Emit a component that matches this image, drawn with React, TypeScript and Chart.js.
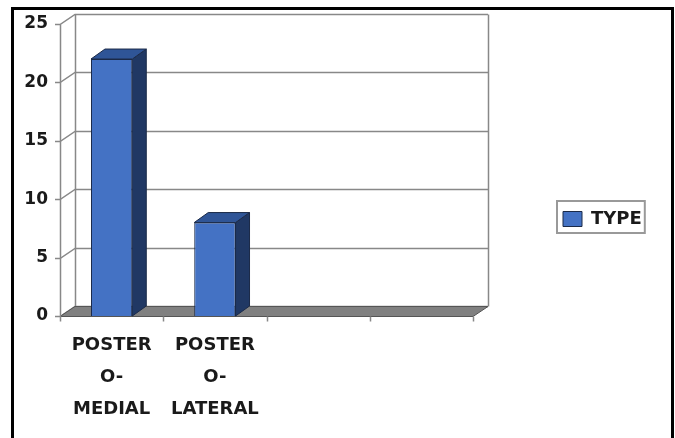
import React, { useEffect, useRef } from 'react';
import { Chart, registerables } from 'chart.js';

Chart.register(...registerables);

// ---- data ----
const categories: (string | string[])[] = [
  ['POSTER', 'O-', 'MEDIAL'],
  ['POSTER', 'O-', 'LATERAL'],
  '',
  '',
];
const typeValues: (number | null)[] = [22, 8, null, null];
const seriesLabel = 'TYPE';
const yMin = 0;
const yMax = 25;
const yStep = 5;

// ---- style ----
const FONT = "'DejaVu Sans', sans-serif";
const TEXT = '#1a1a1a';
const WALL_DX = 15;
const WALL_DY = -10;
const BAR_DX = 14;
const BAR_DY = -10;
const BAR_FRONT = '#4472C4';
const BAR_SIDE = '#203864';
const BAR_TOP = '#2F5597';
const BAR_EDGE = '#1b2a48';
const GRID = '#888888';

const threeD = {
  id: 'threeD',
  beforeDatasetsDraw(chart: any) {
    const { ctx, chartArea: a, scales } = chart;
    const ys = scales.y;
    ctx.save();
    ctx.lineWidth = 1.5;
    ctx.strokeStyle = GRID;
    // grid lines: front tick, side wall diagonal, back wall horizontal
    ys.ticks.forEach((t: any) => {
      const py = Math.round(ys.getPixelForValue(t.value)) + 0.5;
      ctx.beginPath();
      ctx.moveTo(a.left - 5, py);
      ctx.lineTo(a.left, py);
      ctx.lineTo(a.left + WALL_DX, py + WALL_DY);
      ctx.lineTo(a.right + WALL_DX, py + WALL_DY);
      ctx.stroke();
    });
    const top = Math.round(ys.getPixelForValue(yMax)) + 0.5;
    const bot = Math.round(ys.getPixelForValue(yMin)) + 0.5;
    // back wall verticals
    ctx.beginPath();
    ctx.moveTo(Math.round(a.left + WALL_DX) + 0.5, top + WALL_DY);
    ctx.lineTo(Math.round(a.left + WALL_DX) + 0.5, bot + WALL_DY);
    ctx.moveTo(Math.round(a.right + WALL_DX) + 0.5, top + WALL_DY);
    ctx.lineTo(Math.round(a.right + WALL_DX) + 0.5, bot + WALL_DY);
    ctx.stroke();
    // floor
    ctx.beginPath();
    ctx.moveTo(a.left, bot);
    ctx.lineTo(a.right, bot);
    ctx.lineTo(a.right + WALL_DX, bot + WALL_DY);
    ctx.lineTo(a.left + WALL_DX, bot + WALL_DY);
    ctx.closePath();
    ctx.fillStyle = '#808080';
    ctx.fill();
    ctx.lineWidth = 1;
    ctx.strokeStyle = '#555555';
    ctx.stroke();
    // front left vertical edge
    ctx.lineWidth = 1.5;
    ctx.strokeStyle = GRID;
    ctx.beginPath();
    const lx = Math.round(a.left) + 0.5;
    ctx.moveTo(lx, top);
    ctx.lineTo(lx, bot + 5);
    ctx.stroke();
    // category ticks
    const n = categories.length;
    const w = (a.right - a.left) / n;
    ctx.beginPath();
    for (let i = 1; i <= n; i++) {
      const x = Math.round(a.left + i * w) + 0.5;
      ctx.moveTo(x, bot);
      ctx.lineTo(x, bot + 5);
    }
    ctx.stroke();
    ctx.restore();
  },
  afterDatasetsDraw(chart: any) {
    const { ctx } = chart;
    const meta = chart.getDatasetMeta(0);
    ctx.save();
    ctx.lineWidth = 1;
    ctx.strokeStyle = BAR_EDGE;
    meta.data.forEach((el: any, i: number) => {
      if (typeValues[i] == null) return;
      const { x, y, base, width } = el.getProps(['x', 'y', 'base', 'width'], true);
      const xl = x - width / 2;
      const xr = x + width / 2;
      // side
      ctx.beginPath();
      ctx.moveTo(xr, y);
      ctx.lineTo(xr + BAR_DX, y + BAR_DY);
      ctx.lineTo(xr + BAR_DX, base + BAR_DY);
      ctx.lineTo(xr, base);
      ctx.closePath();
      ctx.fillStyle = BAR_SIDE;
      ctx.fill();
      ctx.stroke();
      // top
      ctx.beginPath();
      ctx.moveTo(xl, y);
      ctx.lineTo(xl + BAR_DX, y + BAR_DY);
      ctx.lineTo(xr + BAR_DX, y + BAR_DY);
      ctx.lineTo(xr, y);
      ctx.closePath();
      ctx.fillStyle = BAR_TOP;
      ctx.fill();
      ctx.stroke();
    });
    ctx.restore();
  },
  afterDraw(chart: any) {
    const { ctx } = chart;
    ctx.save();
    const hb = chart.legend && chart.legend.legendHitBoxes && chart.legend.legendHitBoxes[0];
    if (hb) {
      ctx.strokeStyle = '#999999';
      ctx.lineWidth = 2;
      ctx.strokeRect(hb.left - 6, hb.top - 9, hb.width + 9, hb.height + 14);
    }
    ctx.strokeStyle = '#000';
    ctx.lineWidth = 3;
    ctx.strokeRect(12.5, 8.5, 660, 440);
    ctx.restore();
  },
};

export default function App() {
  const ref = useRef<HTMLCanvasElement>(null);
  useEffect(() => {
    const chart = new Chart(ref.current as HTMLCanvasElement, {
      type: 'bar',
      data: {
        labels: categories,
        datasets: [
          {
            label: seriesLabel,
            data: typeValues,
            backgroundColor: BAR_FRONT,
            borderColor: BAR_EDGE,
            borderWidth: 1,
            categoryPercentage: 1,
            barPercentage: 0.4,
          },
        ],
      },
      options: {
        animation: false,
        responsive: false,
        devicePixelRatio: 1,
        layout: { padding: { left: 0, top: 0, bottom: 0, right: 32 } },
        plugins: {
          tooltip: { enabled: false },
          legend: {
            position: 'right',
            align: 'center',
            maxWidth: 90,
            labels: {
              boxWidth: 19,
              boxHeight: 15,
              padding: 10,
              color: TEXT,
              font: { family: FONT, size: 18, weight: 'bold' },
            },
          },
        },
        scales: {
          x: {
            type: 'category',
            position: 'bottom',
            grid: { display: false, drawTicks: false },
            border: { display: false },
            ticks: {
              color: TEXT,
              font: { family: FONT, size: 18, weight: 'bold', lineHeight: 32 / 18 },
              padding: 13,
              maxRotation: 0,
              autoSkip: false,
            },
            afterFit: (s: any) => {
              s.height = 122;
            },
          },
          y: {
            min: yMin,
            max: yMax,
            grid: { display: false, drawTicks: false },
            border: { display: false },
            ticks: {
              stepSize: yStep,
              color: TEXT,
              padding: 12,
              font: { family: FONT, size: 17, weight: 'bold' },
            },
            afterFit: (s: any) => {
              s.width = 60;
            },
          },
          xTop: {
            type: 'category',
            position: 'top',
            grid: { display: false, drawTicks: false },
            border: { display: false },
            ticks: { display: false },
            afterFit: (s: any) => {
              s.height = 24;
            },
          },
          yRight: {
            type: 'linear',
            position: 'right',
            grid: { display: false, drawTicks: false },
            border: { display: false },
            ticks: { display: false },
            afterFit: (s: any) => {
              s.width = 80;
            },
          },
        },
      } as any,
      plugins: [threeD],
    });
    return () => chart.destroy();
  }, []);
  return (
    <div style={{ position: 'fixed', left: 0, top: 0, width: 675, height: 438, background: '#fff' }}>
      <canvas ref={ref} width={675} height={438} style={{ display: 'block' }} />
    </div>
  );
}
